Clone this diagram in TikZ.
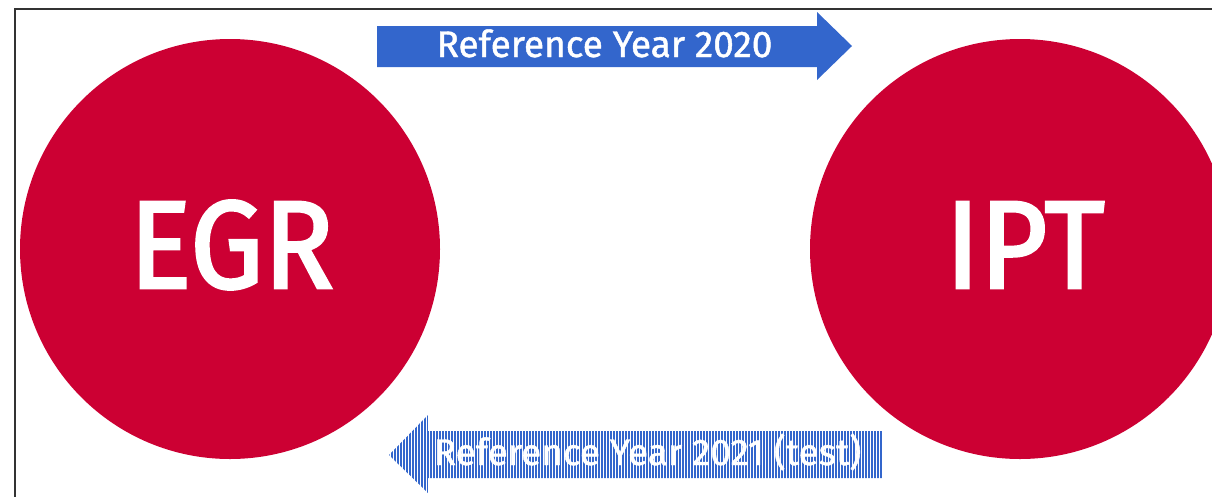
\documentclass[tikz,border=0pt]{standalone}
\usepackage{fontspec}
\setmainfont{Fira Sans}
\newfontfamily\orgfont{Fira Sans}[FakeBold=2.2, FakeStretch=0.93]
\newfontfamily\arrfont{Fira Sans}[FakeBold=1.2]
\begin{document}
\begin{tikzpicture}[x=1pt,y=-1pt]
\definecolor{egrred}{HTML}{CC0033}
\definecolor{arrowblue}{HTML}{3366CC}
\tikzset{
  orgcircle/.style={circle, fill=egrred, minimum size=420pt, inner sep=0pt},
  orglabel/.style={text=white, font=\orgfont\fontsize{125}{125}\selectfont, anchor=base, inner sep=0pt},
  arrowlabel/.style={text=white, font=\arrfont\fontsize{37}{37}\selectfont, anchor=base, inner sep=0pt},
  frameline/.style={draw=black!80, line width=1.8pt},
  stripe/.style={draw=arrowblue, line width=2pt}
}
\useasboundingbox (0,0) rectangle (1212,496);
\clip (0,0) rectangle (1212,496);
\draw[frameline] (14.8,9.3) rectangle (1240,520);
% organisations
\node[orgcircle] (egr) at (230,249) {};
\node[orgcircle] (ipt) at (1020,249) {};
\node[orglabel] (egrtext) at (231.5,288) {EGR};
\node[orglabel] (ipttext) at (1025,288) {IPT};
% top arrow
\fill[arrowblue] (377,26) -- (817,26) -- (817,12) -- (852,46) -- (817,80) -- (817,67) -- (377,67) -- cycle;
\node[arrowlabel] (y2020) at (604.5,57) {Reference Year 2020};
% bottom arrow (striped)
\begin{scope}
  \clip (882,431) -- (428,431) -- (428,415) -- (389,455) -- (428,493) -- (428,478) -- (882,478) -- cycle;
  \foreach \x in {389,392,...,884} \draw[stripe] (\x,410) -- (\x,500);
\end{scope}
\node[arrowlabel] (y2021) at (647.5,465) {Reference Year 2021 (test)};
\end{tikzpicture}
\end{document}
